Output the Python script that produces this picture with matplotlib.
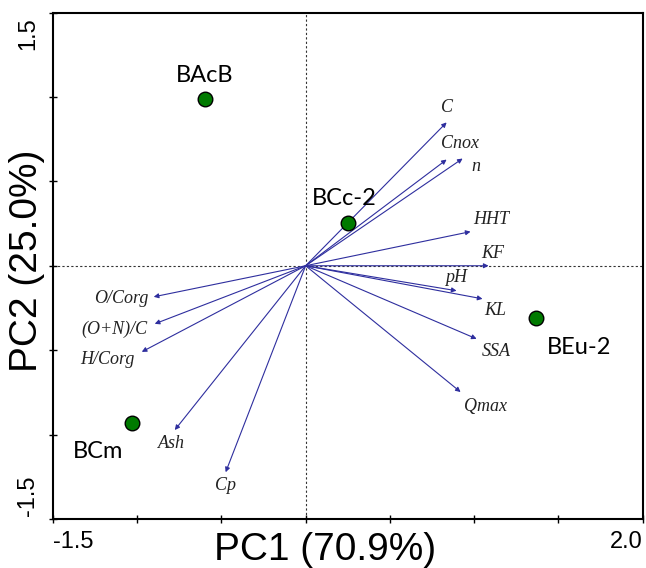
import matplotlib
matplotlib.use("Agg")
import matplotlib.pyplot as plt
from matplotlib.transforms import ScaledTranslation

# ---- data ----
sample_names = ["BAcB", "BCc-2", "BEu-2", "BCm"]
sample_pc1 = [-0.60, 0.25, 1.37, -1.03]
sample_pc2 = [0.99, 0.255, -0.31, -0.93]

var_names = ["C", "Cnox", "n", "HHT", "KF", "pH", "KL", "SSA", "Qmax",
             "O/Corg", "(O+N)/C", "H/Corg", "Ash", "Cp"]
var_pc1 = [0.837, 0.837, 0.932, 0.979, 1.086, 0.896, 1.050, 1.015, 0.920,
           -0.902, -0.896, -0.973, -0.777, -0.475]
var_pc2 = [0.849, 0.629, 0.635, 0.202, 0.0, -0.148, -0.196, -0.433, -0.748,
           -0.184, -0.344, -0.510, -0.973, -1.223]

x_label = "PC1 (70.9%)"
y_label = "PC2 (25.0%)"
x_ticks = [-1.5, -1.0, -0.5, 0.0, 0.5, 1.0, 1.5, 2.0]
y_ticks = [-1.5, -1.0, -0.5, 0.0, 0.5, 1.0, 1.5]

# ---- layout (label offsets in pixels) ----
sample_offsets = {"BAcB": (0, 23), "BCc-2": (-3, 24), "BEu-2": (43, -29), "BCm": (-34, -29)}
var_offsets = {"C": (0, 15), "Cnox": (13, 16), "n": (13, -8), "HHT": (21, 12),
               "KF": (4, 12), "pH": (0, 13), "KL": (13, -12), "SSA": (20, -13),
               "Qmax": (25, -14), "O/Corg": (-32, -2), "(O+N)/C": (-40, -6),
               "H/Corg": (-34, -8), "Ash": (-3, -13), "Cp": (0, -13)}

fig = plt.figure(figsize=(6.46, 5.68), dpi=100)
ax = fig.add_axes([53 / 646, 1 - 519 / 568, 589.5 / 646, 506.5 / 568])
ax.set_xlim(-1.5, 2.0)
ax.set_ylim(-1.5, 1.5)

ax.axhline(0, color="#333333", lw=0.8, ls=(0, (2, 2)), zorder=1)
ax.axvline(0, color="#333333", lw=0.8, ls=(0, (2, 2)), zorder=1)

arrow_color = "#2e2e9e"
for name, vx, vy in zip(var_names, var_pc1, var_pc2):
    ax.annotate("", xy=(vx, vy), xytext=(0, 0),
                arrowprops=dict(arrowstyle="-|>", color=arrow_color, lw=0.8,
                                mutation_scale=7, shrinkA=0, shrinkB=0),
                zorder=2)
    ox, oy = var_offsets[name]
    ax.annotate(name, xy=(vx, vy), xytext=(ox, oy), textcoords="offset pixels",
                ha="center", va="center", fontsize=13, fontstyle="italic",
                family="Liberation Serif", color="#222222", zorder=3)

ax.scatter(sample_pc1, sample_pc2, s=110, c="#007a00", edgecolors="black",
           linewidths=1.0, zorder=4)
for name, sx, sy in zip(sample_names, sample_pc1, sample_pc2):
    ox, oy = sample_offsets[name]
    ax.annotate(name, xy=(sx, sy), xytext=(ox, oy), textcoords="offset pixels",
                ha="center", va="center", fontsize=17, family="Lato",
                color="black", zorder=5)

ax.set_xticks(x_ticks)
ax.set_yticks(y_ticks)
xl = [f"{t:.1f}" if i in (0, len(x_ticks) - 1) else "" for i, t in enumerate(x_ticks)]
yl = [f"{t:.1f}" if i in (0, len(y_ticks) - 1) else "" for i, t in enumerate(y_ticks)]
ax.set_xticklabels(xl, fontsize=17, family="Liberation Sans")
ax.set_yticklabels(yl, fontsize=17, family="Liberation Sans", rotation=90)
ax.tick_params(axis="both", direction="inout", length=6, width=1.0)
ax.tick_params(axis="x", pad=6)
ax.tick_params(axis="y", pad=7)
xlabs = ax.get_xticklabels()
xlabs[0].set_ha("left")
xlabs[-1].set_ha("right")
ylabs = ax.get_yticklabels()
ylabs[0].set_va("bottom")
ylabs[-1].set_va("top")
for lab in ylabs:
    lab.set_ha("right")
# nudge end labels slightly inward like the reference
ylabs[-1].set_transform(ylabs[-1].get_transform() + ScaledTranslation(0, -5 / 100, fig.dpi_scale_trans))
ylabs[0].set_transform(ylabs[0].get_transform() + ScaledTranslation(0, 3 / 100, fig.dpi_scale_trans))

for sp in ax.spines.values():
    sp.set_linewidth(1.5)
    sp.set_color("black")

fig.text(325 / 646, (568 - 560) / 568, x_label, ha="center", va="baseline",
         fontsize=28, family="Liberation Sans")
fig.text(27 / 646, 1 - 261 / 568, y_label, ha="center", va="center",
         rotation=90, fontsize=28, family="Liberation Sans")

fig.savefig("out.png", dpi=100)
